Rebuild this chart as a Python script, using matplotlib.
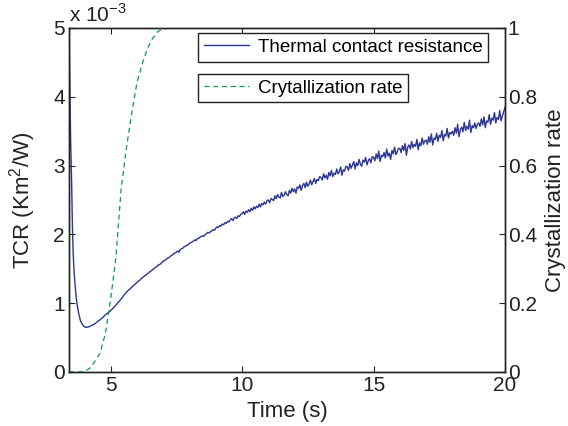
import numpy as np
import matplotlib.pyplot as plt

plt.rcParams['font.family'] = ['Liberation Sans', 'DejaVu Sans']
plt.rcParams['mathtext.fontset'] = 'custom'
plt.rcParams['mathtext.rm'] = 'Liberation Sans'

# TCR in units of 1e-3 K m^2/W -- fast initial drop
t_early = [3.42, 3.43, 3.44, 3.46, 3.48, 3.50, 3.52, 3.55, 3.58, 3.62, 3.66, 3.70,
           3.75, 3.80, 3.85, 3.90, 3.95, 4.00, 4.05, 4.10, 4.20, 4.30, 4.40,
           4.50, 4.60, 4.70, 4.80, 4.90, 5.00, 5.20, 5.40, 5.60, 5.80]
tcr_early = [8.0, 5.2, 4.5, 3.9, 3.4, 3.05, 2.75, 2.1, 1.7, 1.42, 1.22, 1.06,
             0.93, 0.83, 0.75, 0.71, 0.68, 0.66, 0.65, 0.65, 0.66, 0.68, 0.70,
             0.73, 0.76, 0.79, 0.83, 0.86, 0.89, 0.97, 1.06, 1.16, 1.23]

# noisy part, sampled every 0.05 s from 6.0 s to 20.0 s
t_noisy_start = 6.0
t_noisy_step = 0.05
tcr_noisy = [
    1.30, 1.32, 1.33, 1.35, 1.37, 1.38, 1.40, 1.41, 1.43, 1.44, 1.46, 1.47, 1.49, 1.50, 1.52, 1.53, 1.55, 1.56, 1.57, 1.59,
    1.61, 1.62, 1.63, 1.65, 1.66, 1.67, 1.69, 1.70, 1.72, 1.73, 1.74, 1.76, 1.74, 1.78, 1.79, 1.80, 1.82, 1.83, 1.84, 1.85,
    1.87, 1.88, 1.89, 1.90, 1.92, 1.91, 1.94, 1.94, 1.96, 1.97, 1.98, 1.97, 2.00, 2.01, 2.03, 2.02, 2.04, 2.05, 2.07, 2.06,
    2.09, 2.11, 2.10, 2.13, 2.12, 2.15, 2.14, 2.17, 2.16, 2.19, 2.18, 2.21, 2.23, 2.20, 2.24, 2.25, 2.23, 2.27, 2.26, 2.29,
    2.30, 2.33, 2.29, 2.34, 2.32, 2.36, 2.33, 2.38, 2.35, 2.40, 2.37, 2.41, 2.39, 2.44, 2.40, 2.45, 2.43, 2.47, 2.44, 2.49,
    2.50, 2.46, 2.52, 2.51, 2.49, 2.56, 2.52, 2.58, 2.54, 2.53, 2.61, 2.55, 2.57, 2.62, 2.58, 2.56, 2.64, 2.60, 2.67, 2.62,
    2.66, 2.60, 2.69, 2.67, 2.72, 2.64, 2.71, 2.74, 2.68, 2.76, 2.70, 2.73, 2.79, 2.72, 2.77, 2.81, 2.74, 2.80, 2.78, 2.84,
    2.83, 2.79, 2.88, 2.82, 2.86, 2.80, 2.90, 2.85, 2.93, 2.84, 2.89, 2.87, 2.95, 2.88, 2.91, 2.98, 2.86, 2.94, 2.92, 2.99,
    2.98, 2.93, 3.03, 2.96, 3.01, 3.06, 2.95, 3.04, 3.00, 3.09, 3.02, 2.99, 3.08, 3.05, 3.12, 3.01, 3.07, 3.10, 3.04, 3.13,
    3.12, 3.07, 3.17, 3.10, 3.21, 3.06, 3.15, 3.13, 3.19, 3.11, 3.24, 3.14, 3.18, 3.09, 3.22, 3.17, 3.27, 3.16, 3.20, 3.25,
    3.25, 3.19, 3.29, 3.22, 3.32, 3.15, 3.27, 3.30, 3.24, 3.35, 3.26, 3.31, 3.28, 3.38, 3.23, 3.33, 3.29, 3.40, 3.31, 3.36,
    3.37, 3.31, 3.42, 3.34, 3.46, 3.30, 3.40, 3.38, 3.47, 3.35, 3.44, 3.41, 3.51, 3.36, 3.45, 3.43, 3.54, 3.40, 3.48, 3.46,
    3.50, 3.44, 3.55, 3.47, 3.60, 3.42, 3.52, 3.56, 3.49, 3.63, 3.51, 3.57, 3.53, 3.66, 3.48, 3.58, 3.55, 3.62, 3.54, 3.60,
    3.62, 3.57, 3.68, 3.59, 3.71, 3.55, 3.65, 3.63, 3.74, 3.60, 3.69, 3.66, 3.77, 3.62, 3.70, 3.67, 3.80, 3.65, 3.72, 3.78,
    3.85,
]

# crystallization rate (right axis)
t_cryst = [3.42, 3.8, 4.0, 4.2, 4.4, 4.6, 4.8, 5.0, 5.2, 5.4, 5.6, 5.8, 6.0,
           6.2, 6.4, 6.6, 6.8, 7.0, 7.2, 7.5, 20.0]
cryst = [0, 0, 0.002, 0.01, 0.03, 0.055, 0.11, 0.21, 0.33, 0.53, 0.65, 0.75,
         0.84, 0.895, 0.94, 0.97, 0.99, 0.997, 1.0, 1.0, 1.0]

t_noisy = t_noisy_start + t_noisy_step * np.arange(len(tcr_noisy))
t_tcr = np.concatenate([t_early, t_noisy])
tcr = np.concatenate([tcr_early, tcr_noisy])

blue = '#2b3595'
green = '#0a9a4a'
ink = '#222222'

fig = plt.figure(figsize=(5.68, 4.26), dpi=100)
ax1 = fig.add_axes([0.1215, 0.1268, 0.7676, 0.8075])
ax2 = ax1.twinx()

l1, = ax1.plot(t_tcr, tcr, color=blue, lw=1.0)
l2, = ax2.plot(t_cryst, cryst, color=green, lw=0.9, dashes=(4, 3))

ax1.set_xlim(3.42, 20)
ax1.set_ylim(0, 5)
ax2.set_ylim(0, 1)
ax1.set_xticks([5, 10, 15, 20])
ax1.set_yticks([0, 1, 2, 3, 4, 5])
ax2.set_yticks([0, 0.2, 0.4, 0.6, 0.8, 1])
ax2.set_yticklabels(['0', '0.2', '0.4', '0.6', '0.8', '1'])

ax1.tick_params(direction='in', length=4, width=0.8, labelsize=15,
                top=True, pad=3, colors=ink)
ax2.tick_params(direction='in', length=4, width=0.8, labelsize=15,
                pad=2, colors=ink)
for a in (ax1, ax2):
    for s in a.spines.values():
        s.set_linewidth(1.0)
        s.set_color(ink)

ax1.set_xlabel('Time (s)', fontsize=16, labelpad=4, color=ink)
ax1.set_ylabel('TCR (Km$^2$/W)', fontsize=16, labelpad=11, color=ink)
ax2.set_ylabel('Crystallization rate', fontsize=16, labelpad=6, color=ink)
ax1.text(0.0, 1.005, 'x 10$^{-3}$', transform=ax1.transAxes, fontsize=15,
         ha='left', va='bottom', color=ink)

leg_kw = dict(loc='upper left', fontsize=13.5, frameon=True, fancybox=False,
              edgecolor=ink, handlelength=2.4, borderpad=0.3,
              handletextpad=0.5, borderaxespad=0, framealpha=1)
leg1 = ax2.legend([l1], ['Thermal contact resistance'],
                  bbox_to_anchor=(0.296, 0.985), **leg_kw)
leg1.get_frame().set_linewidth(1.0)
ax2.add_artist(leg1)
leg2 = ax2.legend([l2], ['Crytallization rate'],
                  bbox_to_anchor=(0.296, 0.866), **leg_kw)
leg2.get_frame().set_linewidth(1.0)

fig.savefig('out.png', dpi=100)
